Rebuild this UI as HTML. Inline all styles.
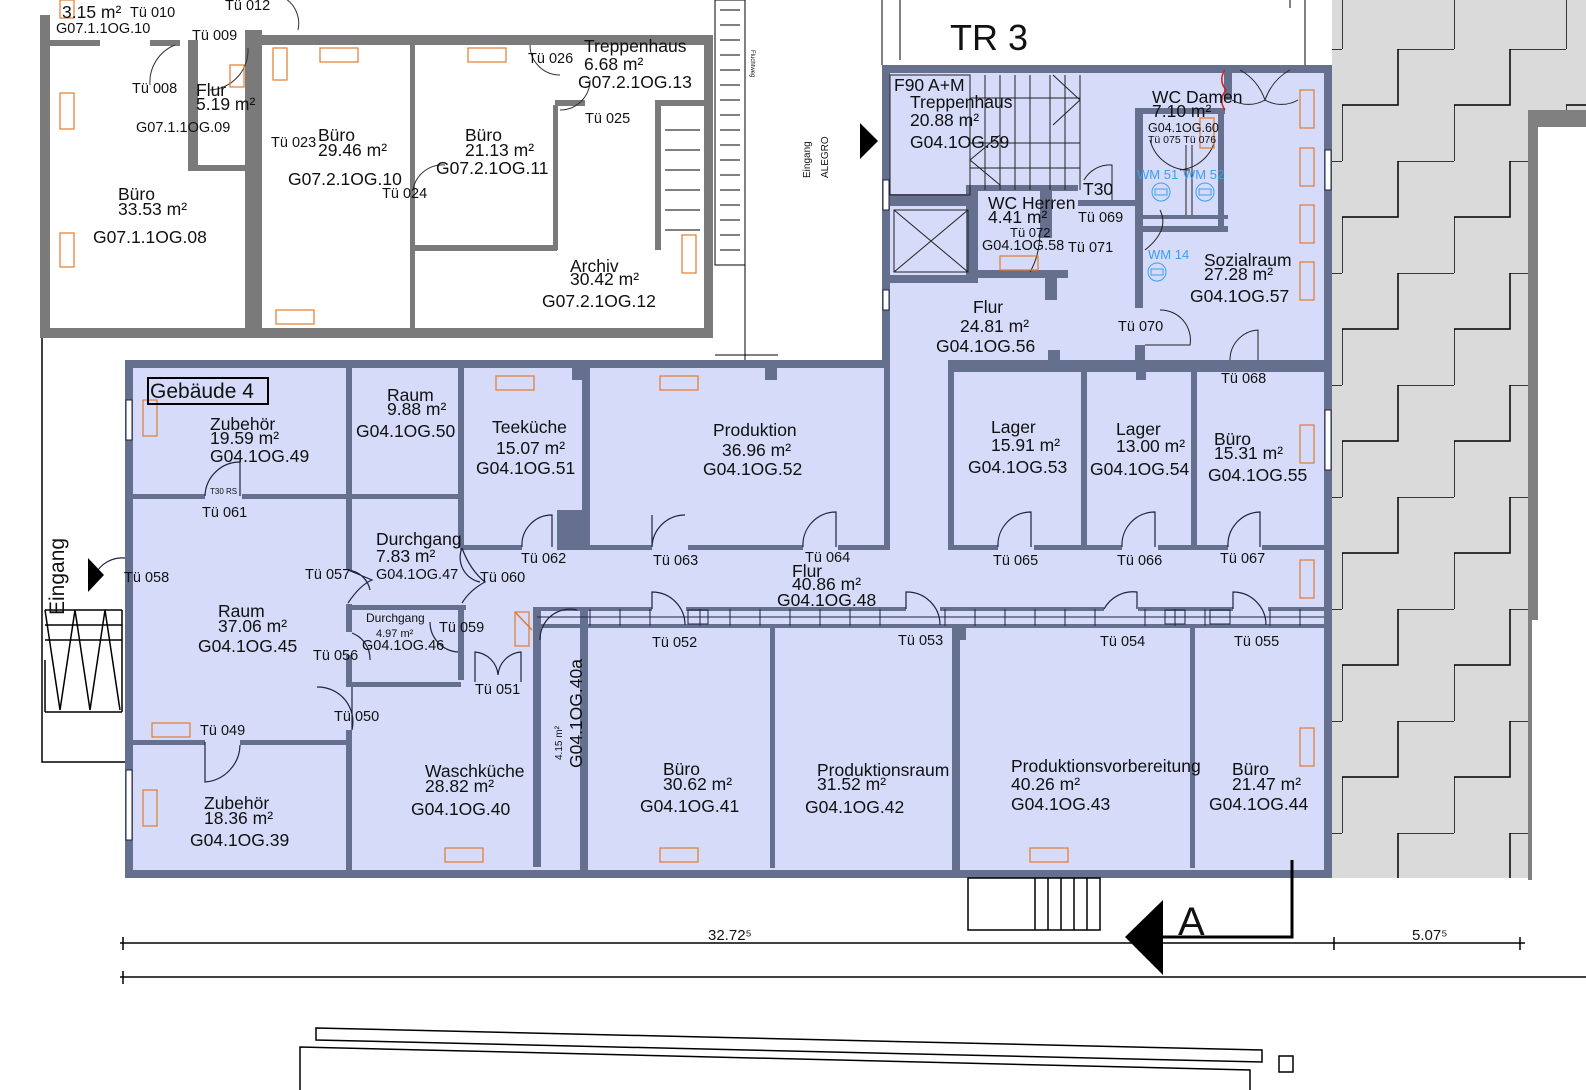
<!DOCTYPE html>
<html><head><meta charset="utf-8"><style>
html,body{margin:0;padding:0;background:#fff;}
svg{display:block;font-family:"Liberation Sans",sans-serif;}
text{fill:#111;}
.t{font-size:17.5px;}
.s{font-size:14.5px;}
.b{fill:#3aa0f0;font-size:13px;}
</style></head><body>
<svg width="1586" height="1090" viewBox="0 0 1586 1090" xmlns="http://www.w3.org/2000/svg">
<defs>
<pattern id="st" patternUnits="userSpaceOnUse" x="1342" y="49" width="112" height="112">
<rect width="112" height="112" fill="#dadada"/>
<path d="M112,0 H56 V56 H0 V112" fill="none" stroke="#000" stroke-width="1.5"/>
</pattern>
</defs>
<rect x="1332" y="0" width="254" height="110" fill="url(#st)"/>
<rect x="1332" y="110" width="196" height="768" fill="url(#st)"/>
<rect x="1528" y="110" width="10" height="510" fill="#808080"/>
<rect x="1528" y="110" width="58" height="17" fill="#808080"/>
<rect x="1538" y="127" width="48" height="493" fill="#fff"/>
<rect x="1528" y="620" width="4" height="260" fill="#808080"/>

<g fill="#7a7a7a">
<rect x="40" y="15" width="10" height="323"/>
<rect x="40" y="328" width="672" height="10"/>
<rect x="704" y="35" width="9" height="303"/>
<rect x="262" y="35" width="450" height="10"/>
<rect x="245" y="30" width="17" height="308"/>
<rect x="40" y="40" width="60" height="6"/>
<rect x="150" y="40" width="30" height="6"/>
<rect x="188" y="40" width="10" height="130"/>
<rect x="188" y="165" width="60" height="6"/>
<rect x="410" y="45" width="5" height="285"/>
<rect x="415" y="245" width="142" height="6"/>
<rect x="553" y="105" width="5" height="145"/>
<rect x="555" y="100" width="30" height="6"/>
<rect x="655" y="100" width="50" height="6"/>
<rect x="655" y="100" width="6" height="150"/>
</g>
<rect x="715" y="0" width="30" height="265" fill="#fff" stroke="#000"/>
<g stroke="#000" stroke-width="1">
<path d="M720 10H740M720 25H740M720 40H740M720 55H740M720 70H740M720 85H740M720 100H740M720 115H740M720 130H740M720 145H740M720 160H740M720 175H740M720 190H740M720 205H740M720 220H740M720 235H740M720 250H740"/>
<path d="M665 130H700M665 150H700M665 170H700M665 190H700M665 210H700M665 230H700"/>
<path d="M745 265V360M715 355H778M882 0V65M900 0V60M1305 0V65M1290 0V8"/>
</g>
<g fill="none" stroke="#333" stroke-width="1">
<path d="M175 45 A40 40 0 0 0 150 85"/>
<path d="M248 48 A40 40 0 0 1 210 90"/>
<path d="M413 190 A30 30 0 0 1 445 165"/>
<path d="M530 45 A30 30 0 0 0 560 75"/>
<path d="M590 80 A30 30 0 0 1 560 110"/>
<path d="M250 0 A30 30 0 0 1 298 30"/>
</g>
<g fill="none" stroke="#e07b30" stroke-width="1.2">
<rect x="60" y="93" width="14" height="36"/><rect x="60" y="233" width="14" height="34"/>
<rect x="230" y="65" width="14" height="22"/><rect x="273" y="48" width="14" height="32"/>
<rect x="320" y="48" width="38" height="14"/><rect x="468" y="48" width="38" height="14"/>
<rect x="276" y="310" width="38" height="14"/><rect x="682" y="235" width="14" height="38"/>
<rect x="60" y="0" width="14" height="18"/>
</g>

<path d="M125 360 H882 V65 H1332 V878 H125 Z" fill="#d5dbf8"/>
<g fill="#656f8e">
<rect x="125" y="360" width="765" height="8"/>
<rect x="882" y="65" width="450" height="8"/>
<rect x="882" y="65" width="8" height="303"/>
<rect x="125" y="360" width="8" height="518"/>
<rect x="125" y="870" width="1207" height="8"/>
<rect x="1324" y="65" width="8" height="813"/>
<rect x="1224" y="65" width="8" height="35"/>
<rect x="130" y="494" width="75" height="5"/><rect x="242" y="494" width="218" height="5"/>
<rect x="346" y="360" width="6" height="210"/>
<rect x="346" y="604" width="6" height="28"/>
<rect x="346" y="655" width="6" height="30"/>
<rect x="346" y="682" width="115" height="5"/>
<rect x="346" y="605" width="120" height="5"/>
<rect x="458" y="360" width="6" height="188"/>
<rect x="458" y="610" width="6" height="70"/>
<rect x="130" y="740" width="75" height="5"/><rect x="240" y="740" width="112" height="5"/>
<rect x="346" y="730" width="6" height="148"/>
<rect x="460" y="545" width="62" height="5"/>
<rect x="557" y="510" width="28" height="40"/>
<rect x="582" y="360" width="8" height="190"/>
<rect x="590" y="545" width="62" height="5"/><rect x="688" y="545" width="115" height="5"/><rect x="838" y="545" width="52" height="5"/>
<rect x="884" y="360" width="6" height="190"/>
<rect x="765" y="360" width="12" height="20"/><rect x="572" y="360" width="10" height="20"/>
<rect x="948" y="360" width="384" height="12"/>
<rect x="948" y="360" width="6" height="190"/>
<rect x="1081" y="368" width="6" height="182"/>
<rect x="1191" y="368" width="6" height="182"/>
<rect x="950" y="545" width="48" height="5"/><rect x="1034" y="545" width="88" height="5"/><rect x="1158" y="545" width="70" height="5"/><rect x="1262" y="545" width="62" height="5"/>
<rect x="1136" y="360" width="10" height="20"/>
<rect x="537" y="607" width="115" height="4"/><rect x="537" y="624" width="787" height="4"/>
<rect x="686" y="607" width="220" height="4"/><rect x="940" y="607" width="164" height="4"/><rect x="1138" y="607" width="95" height="4"/><rect x="1268" y="607" width="56" height="4"/>
<rect x="533" y="607" width="8" height="260"/>
<rect x="580" y="607" width="8" height="271"/>
<rect x="770" y="628" width="5" height="240"/>
<rect x="952" y="628" width="8" height="250"/>
<rect x="1190" y="628" width="5" height="240"/>
<rect x="958" y="628" width="8" height="12"/>
<rect x="886" y="194" width="90" height="12"/>
<rect x="966" y="185" width="12" height="90"/>
<rect x="890" y="275" width="88" height="8"/>
<rect x="968" y="185" width="110" height="6"/>
<rect x="1040" y="188" width="12" height="50"/>
<rect x="968" y="270" width="100" height="8"/>
<rect x="1045" y="270" width="12" height="30"/>
<rect x="1048" y="350" width="12" height="12"/>
<rect x="1078" y="200" width="60" height="6"/>
<rect x="1135" y="108" width="8" height="200"/>
<rect x="1135" y="108" width="90" height="6"/>
<rect x="1143" y="215" width="85" height="4"/><rect x="1143" y="226" width="85" height="6"/>
<rect x="1218" y="108" width="6" height="124"/>
<rect x="1135" y="345" width="10" height="20"/>
</g>
<g stroke="#222" stroke-width="1" fill="none">
<rect x="890" y="75" width="80" height="120"/>
<path d="M970 75V190M1080 75V190M970 98H1080M970 143H1080M970 168H1080M985 75V190M1000 75V190M1015 75V190M1030 75V190M1050 75V190M1065 75V190"/>
<path d="M1053 75 L1080 100 L1053 125M1000 135 L970 160 L1000 185"/>
<rect x="894" y="210" width="74" height="62"/>
<path d="M894 210 L968 272 M968 210 L894 272"/>
<path d="M1240 70 Q1258 80 1265 100 Q1272 80 1290 70M1232 100 A33 33 0 0 0 1265 100M1298 100 A33 33 0 0 1 1265 100"/>
<path d="M1084 180 A30 30 0 0 1 1112 165V200"/>
<path d="M1145 250 Q1170 230 1160 210"/>
<path d="M1160 310 A30 30 0 0 1 1190 345H1145"/>
<path d="M1230 360 A30 30 0 0 1 1258 330V360"/>
<path d="M1150 140 A40 40 0 0 0 1190 170M1215 140 A40 40 0 0 1 1180 170"/>
<path d="M1186 145V215M1192 145V215"/>
<path d="M1040 230 Q1040 255 1030 272"/>
</g>
<g fill="none" stroke="#3aa0f0" stroke-width="1">
<circle cx="1161" cy="192" r="9"/><rect x="1155" y="189" width="12" height="6"/>
<circle cx="1205" cy="192" r="9"/><rect x="1199" y="189" width="12" height="6"/>
<circle cx="1157" cy="272" r="9"/><rect x="1151" y="269" width="12" height="6"/>
</g>
<path d="M1225 70 Q1218 80 1226 90 Q1218 100 1225 110" stroke="#cc2222" fill="none" stroke-width="1.5"/>
<g stroke="#1f2540" stroke-width="1.2" fill="none">
<path d="M205 496 A35 35 0 0 1 240 462V496"/>
<path d="M348 570 Q360 575 372 580 Q360 585 348 603M348 570 A25 25 0 0 1 370 590"/>
<path d="M462 548 Q470 570 485 582 Q470 590 462 603M462 548 A25 25 0 0 0 480 582"/>
<path d="M522 547 A30 30 0 0 1 552 515V547"/>
<path d="M652 547 A33 33 0 0 1 685 515 M652 515 V547"/>
<path d="M803 547 A33 33 0 0 1 836 512V547"/>
<path d="M998 547 A33 33 0 0 1 1031 512V547"/>
<path d="M1122 547 A33 33 0 0 1 1155 512V547"/>
<path d="M1228 547 A33 33 0 0 1 1260 512V547"/>
<path d="M652 609 V592 A33 33 0 0 1 685 625"/>
<path d="M906 609 V592 A33 33 0 0 1 940 625"/>
<path d="M1104 609 A33 33 0 0 1 1137 592V609"/>
<path d="M1233 609 V592 A33 33 0 0 1 1266 625"/>
<path d="M352 633 A28 28 0 0 1 370 660"/>
<path d="M430 622 A30 30 0 0 0 458 652"/>
<path d="M475 682 V652 A25 25 0 0 1 498 675 A25 25 0 0 1 521 652V682"/>
<path d="M352 730 A35 35 0 0 0 317 687 M352 687V730"/>
<path d="M205 742 V782 A38 38 0 0 0 240 745"/>
<path d="M540 640 A30 30 0 0 1 577 610"/>
<path d="M125 558 A30 30 0 0 0 95 575"/>
</g>
<g fill="#fff" stroke="#1f2540" stroke-width="1">
<rect x="126" y="400" width="6" height="40"/><rect x="126" y="770" width="6" height="70"/>
<rect x="1325" y="410" width="6" height="60"/><rect x="1325" y="150" width="6" height="40"/>
<rect x="883" y="180" width="6" height="30"/><rect x="883" y="290" width="6" height="20"/>
</g>
<g stroke="#1f2540" stroke-width="1" fill="none">
<path d="M537 617H1324"/><path d="M590 609V626M620 609V626M650 609V626M700 609V626M730 609V626M760 609V626M790 609V626M820 609V626M850 609V626M880 609V626M945 609V626M975 609V626M1005 609V626M1035 609V626M1065 609V626M1095 609V626M1145 609V626M1175 609V626M1205 609V626M1270 609V626M1300 609V626"/>
<rect x="688" y="610" width="20" height="14"/><rect x="1165" y="610" width="20" height="14"/><rect x="1210" y="610" width="20" height="14"/>
</g>
<g fill="none" stroke="#e07b30" stroke-width="1.2">
<rect x="143" y="400" width="14" height="36"/><rect x="496" y="376" width="38" height="14"/><rect x="660" y="376" width="38" height="14"/>
<rect x="1300" y="425" width="14" height="38"/><rect x="1300" y="560" width="14" height="38"/><rect x="1300" y="728" width="14" height="38"/>
<rect x="152" y="723" width="38" height="14"/><rect x="143" y="790" width="14" height="36"/>
<rect x="445" y="848" width="38" height="14"/><rect x="660" y="848" width="38" height="14"/><rect x="1030" y="848" width="38" height="14"/>
<rect x="515" y="612" width="14" height="34"/><rect x="1000" y="256" width="38" height="14"/>
<rect x="1300" y="90" width="14" height="38"/><rect x="1300" y="148" width="14" height="38"/><rect x="1300" y="205" width="14" height="38"/><rect x="1300" y="262" width="14" height="38"/>
<rect x="1200" y="118" width="14" height="30"/>
</g>
<g stroke="#000" fill="none" stroke-width="1.5">
<rect x="148" y="378" width="120" height="26" stroke-width="2"/>
<path d="M42 338 V762 H125"/>
<path d="M45 610 H122 M45 625 H122 M45 640H122"/>
<path d="M45 610 L60 710 L75 610 L90 710 L105 610 L120 710"/>
<path d="M45 660 V712 M122 610 V712 M45 712 H122"/>
<rect x="968" y="878" width="132" height="52"/>
<path d="M1035 878V930M1048 878V930M1061 878V930M1074 878V930M1087 878V930"/>
<path d="M1163 937 H1292 V860" stroke-width="3"/>
<path d="M120 943 H1525 M120 977 H1586"/>
<path d="M123 937V950M1334 937V950M1520 937V950M123 971V984"/>
<path d="M316 1028 L1262 1050 L1262 1062 L316 1040 Z"/>
<path d="M300 1090 V1047 L1250 1070 V1090"/>
<rect x="1279" y="1056" width="14" height="16"/>
</g>
<path d="M1163 900 L1125 937 L1163 975 Z" fill="#000"/>
<path d="M860 123 L878 141 L860 159 Z" fill="#000"/>
<path d="M88 558 L104 575 L88 592 Z" fill="#000"/>
<path d="M515 612 L532 630" stroke="#e07b30" stroke-width="1.5"/>

<text x="950" y="50" style="font-size:36px">TR 3</text>
<text x="1178" y="935" style="font-size:40px">A</text>
<text x="708" y="940" style="font-size:15px">32.72⁵</text>
<text x="1412" y="940" style="font-size:15px">5.07⁵</text>
<text x="150" y="398" style="font-size:21px">Gebäude 4</text>
<text x="210" y="430" class="t">Zubehör</text><text x="210" y="444" class="t">19.59 m²</text><text x="210" y="462" class="t">G04.1OG.49</text>
<text x="387" y="401" class="t">Raum</text><text x="387" y="415" class="t">9.88 m²</text><text x="356" y="437" class="t">G04.1OG.50</text>
<text x="492" y="433" class="t">Teeküche</text><text x="496" y="454" class="t">15.07 m²</text><text x="476" y="474" class="t">G04.1OG.51</text>
<text x="713" y="436" class="t">Produktion</text><text x="722" y="456" class="t">36.96 m²</text><text x="703" y="475" class="t">G04.1OG.52</text>
<text x="991" y="433" class="t">Lager</text><text x="991" y="451" class="t">15.91 m²</text><text x="968" y="473" class="t">G04.1OG.53</text>
<text x="1116" y="435" class="t">Lager</text><text x="1116" y="452" class="t">13.00 m²</text><text x="1090" y="475" class="t">G04.1OG.54</text>
<text x="1214" y="445" class="t">Büro</text><text x="1214" y="459" class="t">15.31 m²</text><text x="1208" y="481" class="t">G04.1OG.55</text>
<text x="210" y="494" style="font-size:8px">T30 RS</text>
<text x="202" y="517" class="s">Tü 061</text>
<text x="376" y="545" class="t">Durchgang</text><text x="376" y="562" class="t">7.83 m²</text><text x="376" y="579" class="s">G04.1OG.47</text>
<text x="124" y="582" class="s">Tü 058</text><text x="305" y="579" class="s">Tü 057</text><text x="480" y="582" class="s">Tü 060</text>
<text x="521" y="563" class="s">Tü 062</text><text x="653" y="565" class="s">Tü 063</text><text x="805" y="562" class="s">Tü 064</text>
<text x="792" y="577" class="t">Flur</text><text x="792" y="590" class="t">40.86 m²</text><text x="777" y="606" class="t">G04.1OG.48</text>
<text x="993" y="565" class="s">Tü 065</text><text x="1117" y="565" class="s">Tü 066</text><text x="1220" y="563" class="s">Tü 067</text>
<text x="218" y="617" class="t">Raum</text><text x="218" y="632" class="t">37.06 m²</text><text x="198" y="652" class="t">G04.1OG.45</text>
<text x="366" y="622" style="font-size:12px">Durchgang</text><text x="376" y="637" style="font-size:11px">4.97 m²</text><text x="362" y="650" class="s">G04.1OG.46</text>
<text x="439" y="632" class="s">Tü 059</text><text x="313" y="660" class="s">Tü 056</text><text x="475" y="694" class="s">Tü 051</text>
<text x="652" y="647" class="s">Tü 052</text><text x="898" y="645" class="s">Tü 053</text><text x="1100" y="646" class="s">Tü 054</text><text x="1234" y="646" class="s">Tü 055</text>
<text x="200" y="735" class="s">Tü 049</text><text x="334" y="721" class="s">Tü 050</text>
<text x="425" y="777" class="t">Waschküche</text><text x="425" y="792" class="t">28.82 m²</text><text x="411" y="815" class="t">G04.1OG.40</text>
<text transform="translate(582,768) rotate(-90)" class="t">G04.1OG.40a</text>
<text transform="translate(562,760) rotate(-90)" style="font-size:10px">4.15 m²</text>
<text x="663" y="775" class="t">Büro</text><text x="663" y="790" class="t">30.62 m²</text><text x="640" y="812" class="t">G04.1OG.41</text>
<text x="817" y="776" class="t">Produktionsraum</text><text x="817" y="790" class="t">31.52 m²</text><text x="805" y="813" class="t">G04.1OG.42</text>
<text x="1011" y="772" class="t">Produktionsvorbereitung</text><text x="1011" y="790" class="t">40.26 m²</text><text x="1011" y="810" class="t">G04.1OG.43</text>
<text x="1232" y="775" class="t">Büro</text><text x="1232" y="790" class="t">21.47 m²</text><text x="1209" y="810" class="t">G04.1OG.44</text>
<text x="204" y="809" class="t">Zubehör</text><text x="204" y="824" class="t">18.36 m²</text><text x="190" y="846" class="t">G04.1OG.39</text>
<text x="894" y="91" class="t">F90 A+M</text>
<text x="910" y="108" class="t">Treppenhaus</text><text x="910" y="126" class="t">20.88 m²</text><text x="910" y="148" class="t">G04.1OG.59</text>
<text x="1152" y="103" class="t">WC Damen</text><text x="1152" y="117" class="t">7.10 m²</text>
<text x="1148" y="132" style="font-size:12.5px">G04.1OG.60</text><text x="1148" y="143" style="font-size:10.5px">Tü 075 Tü 076</text>
<text x="1137" y="179" class="b">WM 51</text><text x="1183" y="179" class="b">WM 52</text><text x="1148" y="259" class="b">WM 14</text>
<text x="1083" y="195" class="t">T30</text>
<text x="988" y="209" class="t">WC Herren</text><text x="988" y="223" class="t">4.41 m²</text>
<text x="1010" y="237" style="font-size:13px">Tü 072</text><text x="982" y="250" class="s">G04.1OG.58</text>
<text x="1078" y="222" class="s">Tü 069</text><text x="1068" y="252" class="s">Tü 071</text>
<text x="1204" y="266" class="t">Sozialraum</text><text x="1204" y="280" class="t">27.28 m²</text><text x="1190" y="302" class="t">G04.1OG.57</text>
<text x="973" y="313" class="t">Flur</text><text x="960" y="332" class="t">24.81 m²</text><text x="936" y="352" class="t">G04.1OG.56</text>
<text x="1118" y="331" class="s">Tü 070</text><text x="1221" y="383" class="s">Tü 068</text>
<text transform="translate(810,178) rotate(-90)" style="font-size:10px">Eingang</text>
<text transform="translate(828,178) rotate(-90)" style="font-size:10px">ALEGRO</text>
<text transform="translate(64,615) rotate(-90)" style="font-size:21px">Eingang</text>
<text transform="translate(751,50) rotate(90)" style="font-size:6px">Fluchtweg</text>
<text x="62" y="18" class="t">3.15 m²</text><text x="130" y="17" class="s">Tü 010</text><text x="56" y="33" class="s">G07.1.1OG.10</text>
<text x="225" y="10" class="s">Tü 012</text><text x="192" y="40" class="s">Tü 009</text><text x="132" y="93" class="s">Tü 008</text>
<text x="196" y="96" class="t">Flur</text><text x="196" y="110" class="t">5.19 m²</text><text x="136" y="132" class="s">G07.1.1OG.09</text>
<text x="118" y="200" class="t">Büro</text><text x="118" y="215" class="t">33.53 m²</text><text x="93" y="243" class="t">G07.1.1OG.08</text>
<text x="271" y="147" class="s">Tü 023</text>
<text x="318" y="141" class="t">Büro</text><text x="318" y="156" class="t">29.46 m²</text><text x="288" y="185" class="t">G07.2.1OG.10</text>
<text x="382" y="198" class="s">Tü 024</text>
<text x="465" y="141" class="t">Büro</text><text x="465" y="156" class="t">21.13 m²</text><text x="436" y="174" class="t">G07.2.1OG.11</text>
<text x="528" y="63" class="s">Tü 026</text>
<text x="584" y="52" class="t">Treppenhaus</text><text x="584" y="70" class="t">6.68 m²</text><text x="578" y="88" class="t">G07.2.1OG.13</text>
<text x="585" y="123" class="s">Tü 025</text>
<text x="570" y="272" class="t">Archiv</text><text x="570" y="285" class="t">30.42 m²</text><text x="542" y="307" class="t">G07.2.1OG.12</text>
</svg>
</body></html>
